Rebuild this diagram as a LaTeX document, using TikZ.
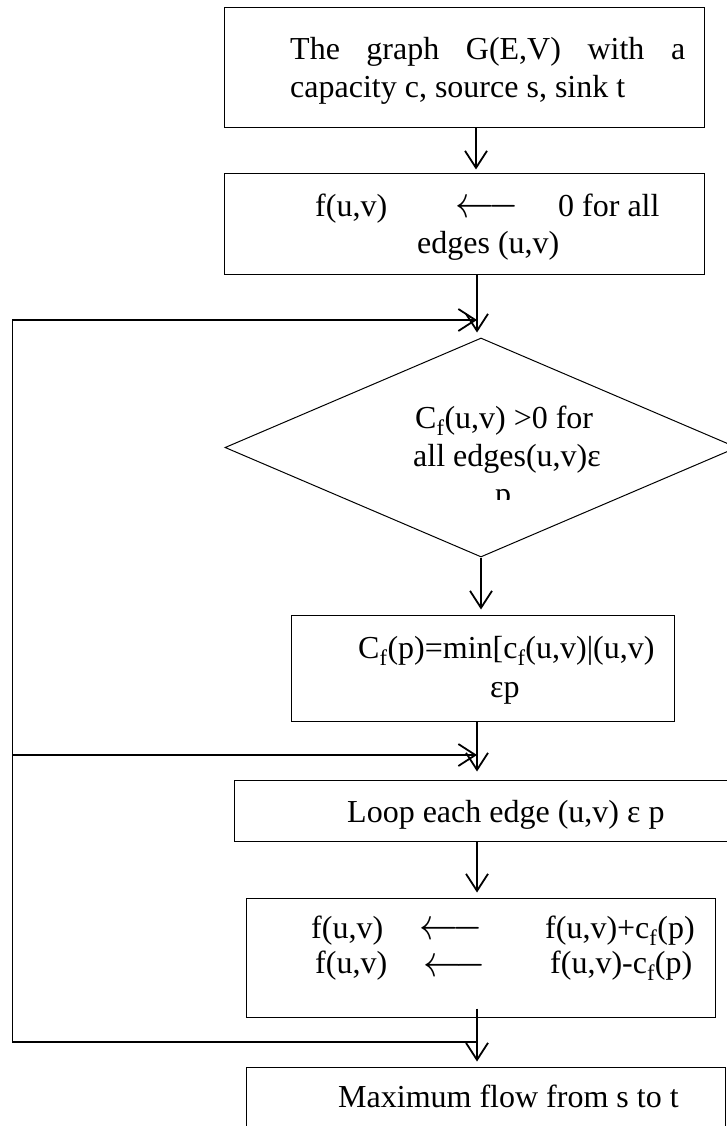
\documentclass[tikz,border=0pt]{standalone}
\usepackage{fontspec}
\setmainfont{Liberation Serif}
\usetikzlibrary{arrows.meta,shapes.geometric}
\newcommand\fsub{\textsubscript{f}}
\newcommand\larrowglyph{\scalebox{1.55}[1.8]{$\longleftarrow$}}
\begin{document}
\begin{tikzpicture}[x=1pt,y=-1pt,
  box/.style={draw, line width=1pt, inner sep=0pt, rectangle},
  dia/.style={draw, line width=1pt, inner sep=0pt, diamond},
  conn/.style={line width=1.8pt},
  arr/.style={conn, -{Straight Barb[length=17pt,width=22pt]}},
  txt/.style={anchor=base west, inner sep=0pt, font=\fontsize{32}{37}\selectfont},
  glyph/.style={anchor=center, inner sep=0pt, font=\fontsize{32}{37}\selectfont}]
\useasboundingbox (0,0) rectangle (727,1126);
\clip (0,0) rectangle (727,1126);
\coordinate (spine) at (477,0);
\coordinate (lx) at (12.5,0);
% boxes
\node[box, minimum width=480pt, minimum height=120pt] (b1) at (464,68) {};
\node[box, minimum width=480pt, minimum height=100pt] (b2) at (464,224) {};
\node[dia, minimum width=512pt, minimum height=219pt] (d) at (481,447.5) {};
\node[box, minimum width=383pt, minimum height=106pt] (b3) at (482.5,668) {};
\node[box, minimum width=506pt, minimum height=61pt] (b4) at (487,810.5) {};
\node[box, minimum width=469pt, minimum height=119pt] (b5) at (480.5,957.5) {};
\node[box, minimum width=479pt, minimum height=73pt] (b6) at (485.5,1103.5) {};
% texts
\node[txt] (t1a) at (290,60) {\makebox[395pt][s]{The graph G(E,V) with a}};
\node[txt] (t1b) at (290,98) {capacity c, source s, sink t};
\node[txt] (t2a) at (315,216) {f(u,v)};
\node[glyph] (t2arr) at (487,209) {\larrowglyph};
\node[txt] (t2b) at (558,216) {0 for all};
\node[txt] (t2c) at (417,253) {edges (u,v)};
\node[txt] (tda) at (415,428) {C\fsub(u,v) >0 for};
\node[txt] (tdb) at (413,466) {all edges(u,v)ε};
\begin{scope}
\clip (480,470) rectangle (530,499);
\node[txt] (tdc) at (495,504) {p};
\end{scope}
\node[txt] (t3a) at (358,658) {C\fsub(p)=min[c\fsub(u,v)|(u,v)};
\node[txt] (t3b) at (490,697) {εp};
\node[txt] (t4) at (347,822) {Loop each edge (u,v) ε p};
\node[txt] (t5a) at (311,938) {f(u,v)};
\node[glyph] (t5arr1) at (451,931) {\larrowglyph};
\node[txt] (t5b) at (545,938) {f(u,v)+c\fsub(p)};
\node[txt] (t5c) at (315,973) {f(u,v)};
\node[glyph] (t5arr2) at (454.5,968) {\larrowglyph};
\node[txt] (t5d) at (550,973) {f(u,v)-c\fsub(p)};
\node[txt] (t6) at (338,1107) {Maximum flow from s to t};
% connectors
\coordinate (j2) at (477,320);
\coordinate (j3) at (477,755);
\coordinate (j1) at (477,1042);
\draw[arr, shorten >=4pt] (b1.south -| 476,0) -- (b2.north -| 476,0);
\draw[arr, shorten >=5pt] (b2.south -| spine) -- (d.north -| spine);
\draw[arr, shorten >=5pt] (d.south) -- (b3.north -| d.south);
\draw[arr, shorten >=8pt] (b3.south -| spine) -- (b4.north -| spine);
\draw[arr, shorten >=5pt] (b4.south -| spine) -- (b5.north -| spine);
\draw[arr, shorten >=5pt] ([yshift=9pt]b5.south -| spine) -- (b6.north -| spine);
\draw[arr, line join=miter] (j1) -- (j1 -| lx) -- (j2 -| lx) -- (j2);
\draw[arr] (j3 -| lx) -- (j3);
\end{tikzpicture}
\end{document}
